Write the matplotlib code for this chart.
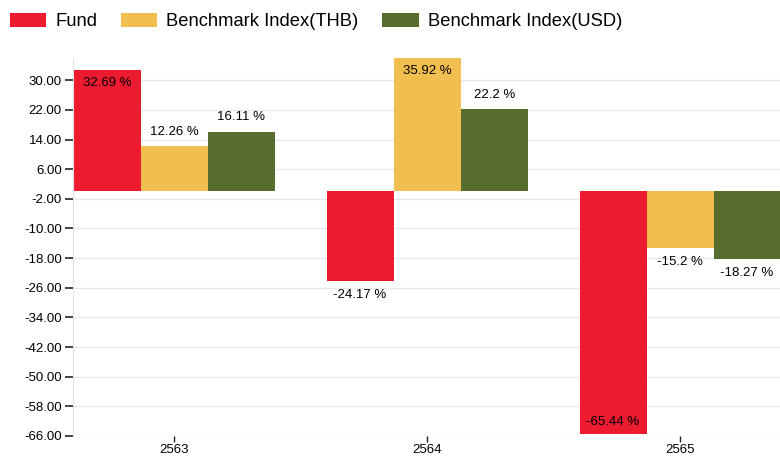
import numpy as np
import matplotlib.pyplot as plt

plt.rcParams['font.family'] = ['Liberation Sans', 'DejaVu Sans']

# data
years = ['2563', '2564', '2565']
series_names = ['Fund', 'Benchmark Index(THB)', 'Benchmark Index(USD)']
fund = [32.69, -24.17, -65.44]
bench_thb = [12.26, 35.92, -15.2]
bench_usd = [16.11, 22.2, -18.27]
yticks = [30, 22, 14, 6, -2, -10, -18, -26, -34, -42, -50, -58, -66]

colors = ['#ED1B2F', '#F2BE50', '#566D2E']
ymin, ymax = -66, 36

fig = plt.figure(figsize=(7.8, 4.57), dpi=100)
ax = fig.add_axes([73 / 780, 21 / 457, 707 / 780, 378 / 457])

x = np.arange(len(years))
width = 0.265
fs = 9.5
all_series = [fund, bench_thb, bench_usd]
for i, (vals, name, c) in enumerate(zip(all_series, series_names, colors)):
    pos = x + (i - 1) * width
    ax.bar(pos, vals, width, color=c, label=name, zorder=2)
    for px, v in zip(pos, vals):
        txt = str(v).rstrip('0').rstrip('.') + ' %'
        if v >= 0:
            if v + 6 > ymax:
                ax.annotate(txt, (px, v), xytext=(0, -5), textcoords='offset points',
                            ha='center', va='top', fontsize=fs)
            else:
                ax.annotate(txt, (px, v), xytext=(0, 6), textcoords='offset points',
                            ha='center', va='bottom', fontsize=fs)
        else:
            if v - 6 < ymin:
                ax.annotate(txt, (px, v), xytext=(0, 4), textcoords='offset points',
                            ha='center', va='bottom', fontsize=fs)
            else:
                ax.annotate(txt, (px, v), xytext=(0, -6), textcoords='offset points',
                            ha='center', va='top', fontsize=fs)

ax.set_ylim(ymin, ymax)
ax.set_xlim(-0.4, 2.395)
ax.set_yticks(yticks)
ax.set_yticklabels(['%.2f' % t for t in yticks], fontsize=fs)
ax.set_xticks(x)
ax.set_xticklabels(years, fontsize=fs)
ax.tick_params(axis='y', length=6, width=1.2, color='#222222', pad=2)
ax.tick_params(axis='x', length=4, width=1, color='#222222', pad=2)
ax.grid(axis='y', color='#e8e8e8', linewidth=1, zorder=0)
for s in ['top', 'right', 'bottom']:
    ax.spines[s].set_visible(False)
ax.spines['left'].set_color('#e0e0e0')

fig.legend(loc='upper left', bbox_to_anchor=(10 / 780, 1 - 13 / 457), ncol=3,
           frameon=False, fontsize=13.2, borderpad=0, borderaxespad=0,
           handlelength=1.97, handleheight=0.82, columnspacing=1.31,
           handletextpad=0.49)

plt.savefig('out.png', dpi=100)
